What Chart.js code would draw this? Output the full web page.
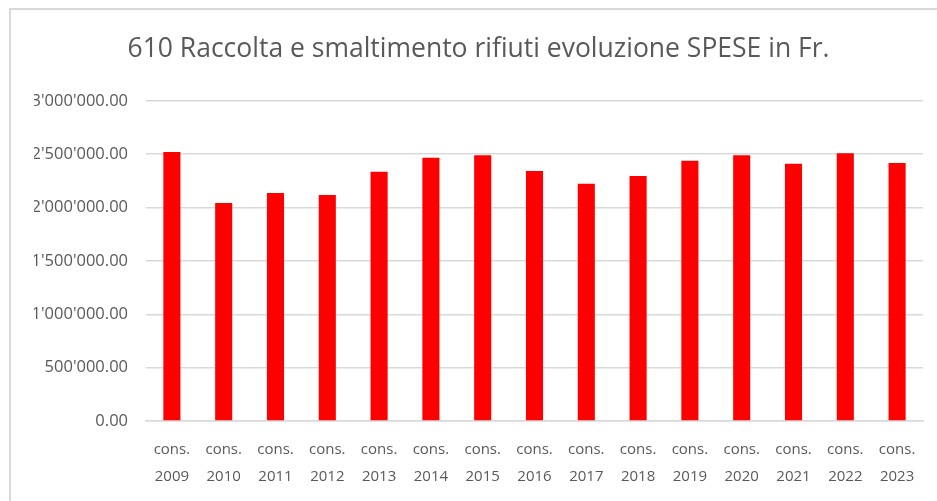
<!DOCTYPE html>
<html>
<head>
<meta charset="utf-8">
<script src="https://cdn.jsdelivr.net/npm/chart.js@4"></script>
<style>
    body { margin: 0; background: #fff; }
    #wrap { position: relative; width: 937px; height: 501px; overflow: hidden; }
    #frame { position: absolute; left: 9px; top: 8px; width: 960px; height: 520px;
             border-left: 2px solid #d9d9d9; border-top: 2px solid #d9d9d9; }
    canvas { position: absolute; left: 0; top: 0; }
</style>
</head>
<body>
<div id="wrap">
    <div id="frame"></div>
    <canvas id="spese" width="937" height="501"></canvas>
</div>
<script>
// Dati: spese consuntivo 2009-2023 (Fr.)
const years = ['2009', '2010', '2011', '2012', '2013', '2014', '2015', '2016',
               '2017', '2018', '2019', '2020', '2021', '2022', '2023'];
const categories = years.map(y => ['cons.', y]);
const spese = [2520000, 2043000, 2137000, 2118000, 2336000, 2467000, 2489000, 2343000,
               2224000, 2296000, 2439000, 2489000, 2411000, 2508000, 2418000];
const yTicks = [0, 500000, 1000000, 1500000, 2000000, 2500000, 3000000];

// 2500000 -> 2'500'000.00
function formatFr(value) {
    const parts = Math.round(value).toString().replace(/\B(?=(\d{3})+(?!\d))/g, "'");
    return parts + '.00';
}

const ctx = document.getElementById('spese').getContext('2d');
new Chart(ctx, {
    type: 'bar',
    data: {
        labels: categories,
        datasets: [{
            label: 'Spese',
            data: spese,
            backgroundColor: '#ff0000',
            borderWidth: 0,
            barPercentage: 0.33,
            categoryPercentage: 1.0
        }]
    },
    options: {
        responsive: false,
        animation: false,
        layout: {
            padding: { left: 34, right: 14, top: 0, bottom: 0 }
        },
        plugins: {
            legend: { display: false },
            tooltip: { enabled: false },
            title: {
                display: true,
                text: '610 Raccolta e smaltimento rifiuti evoluzione SPESE in Fr.',
                color: '#595959',
                font: { family: 'Open Sans', size: 26.5, weight: 'normal' },
                padding: { top: 34, bottom: 35 }
            }
        },
        scales: {
            x: {
                grid: { display: false, drawTicks: false },
                border: { color: '#d9d9d9', width: 1.5 },
                ticks: {
                    color: '#595959',
                    font: { family: 'Open Sans', size: 15, lineHeight: 1.75 },
                    padding: 16,
                    maxRotation: 0,
                    autoSkip: false
                },
                afterFit: function(scale) { scale.height = 80; }
            },
            y: {
                min: 0,
                max: 3000000,
                afterBuildTicks: function(scale) {
                    scale.ticks = yTicks.map(v => ({ value: v }));
                },
                grid: { color: '#d9d9d9', lineWidth: 1.5, drawTicks: false },
                border: { display: false },
                ticks: {
                    color: '#595959',
                    font: { family: 'Open Sans', size: 16.5 },
                    padding: 18,
                    callback: function(value) { return formatFr(value); }
                },
                afterFit: function(scale) { scale.width = 112; }
            }
        }
    }
});
</script>
</body>
</html>
